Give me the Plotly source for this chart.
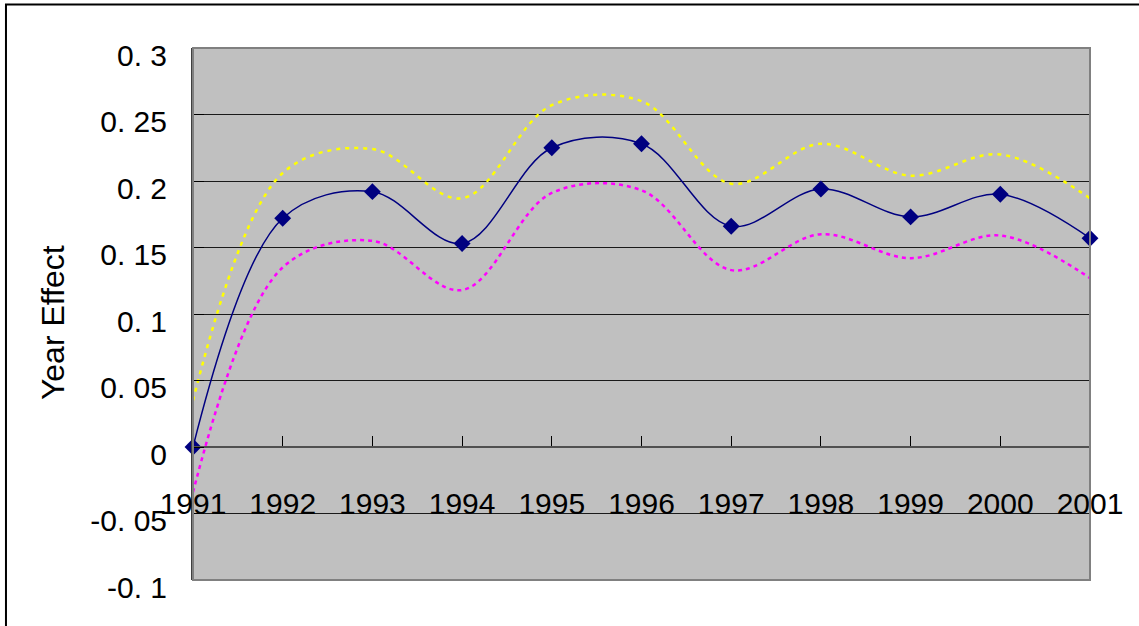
import plotly.graph_objects as go

years = [1991, 1992, 1993, 1994, 1995, 1996, 1997, 1998, 1999, 2000, 2001]
year_effect = [0.0, 0.172, 0.192, 0.153, 0.225, 0.228, 0.166, 0.194, 0.173, 0.190, 0.157]
upper_bound = [0.035, 0.206, 0.224, 0.187, 0.257, 0.260, 0.198, 0.228, 0.204, 0.220, 0.187]
lower_bound = [-0.034, 0.135, 0.155, 0.118, 0.191, 0.193, 0.133, 0.160, 0.142, 0.159, 0.127]

y_tickvals = [0.3, 0.25, 0.2, 0.15, 0.1, 0.05, 0, -0.05, -0.1]
y_ticktext = ["0. 3", "0. 25", "0. 2", "0. 15", "0. 1", "0. 05", "0", "-0. 05", "-0. 1"]
x_ticktext = [str(y) for y in years]

FONT = "Liberation Sans"

fig = go.Figure()
fig.add_trace(go.Scatter(
    x=years, y=upper_bound, mode="lines",
    line=dict(color="#FFFF00", width=2.5, dash="4px,5px", shape="spline", smoothing=1),
    showlegend=False, hoverinfo="skip", cliponaxis=False,
))
fig.add_trace(go.Scatter(
    x=years, y=lower_bound, mode="lines",
    line=dict(color="#FF00FF", width=2.5, dash="4px,4px", shape="spline", smoothing=1),
    showlegend=False, hoverinfo="skip", cliponaxis=False,
))
fig.add_trace(go.Scatter(
    x=years, y=year_effect, mode="lines+markers",
    line=dict(color="#000080", width=1.5, shape="spline", smoothing=1),
    marker=dict(symbol="diamond", size=13, color="#000080"),
    showlegend=False, cliponaxis=False,
))

fig.update_layout(
    width=1139, height=626,
    margin=dict(l=193, r=49, t=48, b=46),
    paper_bgcolor="white",
    plot_bgcolor="#C0C0C0",
    font=dict(family=FONT, size=30, color="black"),
    xaxis=dict(
        range=[1991, 2001],
        tickmode="array", tickvals=years, ticktext=x_ticktext,
        anchor="free", position=0.25,
        showgrid=False, zeroline=False,
        showline=True, linecolor="#505050", linewidth=2,
        ticks="inside", ticklen=10, tickcolor="#000000", tickwidth=1,
        ticklabelstandoff=30,
        tickfont=dict(family=FONT, size=30, color="black"),
    ),
    yaxis=dict(
        range=[-0.1, 0.3],
        tickmode="array", tickvals=y_tickvals, ticktext=y_ticktext,
        showgrid=True, gridcolor="#1a1a1a", gridwidth=1,
        zeroline=False,
        showline=True, linecolor="#404040", linewidth=2,
        ticks="inside", ticklen=11, tickcolor="#000000", tickwidth=1,
        ticklabelstandoff=18,
        ticklabelshift=7,
        tickfont=dict(family=FONT, size=30, color="black"),
    ),
    shapes=[
        dict(type="rect", xref="paper", yref="paper", x0=0, x1=1, y0=0, y1=1,
             line=dict(color="#808080", width=2), layer="above"),
        dict(type="rect", xref="paper", yref="paper", x0=-0.2085, x1=1.07,
             y0=-0.1, y1=1.0818, line=dict(color="black", width=2)),
    ],
    annotations=[
        dict(text="Year Effect", xref="paper", yref="paper", x=-0.156, y=0.483,
             textangle=-90, showarrow=False, xanchor="center", yanchor="middle",
             font=dict(family=FONT, size=32, color="black")),
    ],
)

fig.write_html("out.html", config={"displayModeBar": False},
               post_script="document.body.style.margin='0';document.body.style.overflow='hidden';")
